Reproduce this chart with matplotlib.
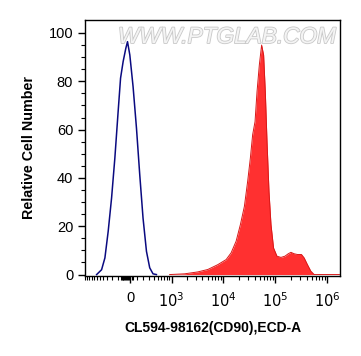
import numpy as np
import matplotlib
matplotlib.use("Agg")
from matplotlib import pyplot as plt
import matplotlib.patheffects as pe

plt.rcParams['font.family'] = ['Liberation Sans', 'DejaVu Sans']

# Control (unstained) histogram - outline only
ctrl_x = [-706, -551, -462, -384, -312, -249, -191, -151, -110, -69, -44,
          -10, 38, 89, 140, 194, 255, 318, 389, 470]
ctrl_y = [0, 2, 6.9, 17.9, 31.7, 48.2, 67.5, 81.3, 88.2, 93.7, 96.4,
          90.9, 77.8, 60.6, 41.3, 23.4, 9.6, 2.8, 0.3, 0]

# CD90 stained histogram - filled
cd90_x = [910, 1803, 3257, 5069, 7878, 11400, 14210, 17710, 21400, 25510,
          29500, 33220, 36780, 40860, 44620, 49420, 54660, 59690, 64330,
          69350, 75720, 82680, 92680, 107700, 128400, 153100, 177000,
          199500, 230600, 266700, 318000, 358100, 414100, 481000, 556100,
          1700000]
cd90_y = [0, 0.3, 1.1, 2.1, 4.1, 6.2, 9, 13.8, 20.7, 28.2,
          38.6, 48.2, 57.9, 63.3, 75.7, 86.8, 95, 90.9, 75.7,
          55.1, 34.4, 20.7, 11, 7.6, 7.1, 7.6, 8.6,
          9.2, 8.6, 8.3, 8.3, 6.9, 4.1, 1.4, 0,
          0]

xtick_vals = [0, 1e3, 1e4, 1e5, 1e6]
xtick_labels = ['0', '$10^3$', '$10^4$', '$10^5$', '$10^6$']
ytick_vals = [0, 20, 40, 60, 80, 100]

# arcsinh display scale (biexponential-like)
C = 333.0
def fwd(x):
    return np.arcsinh(np.asarray(x) / C) / np.log(10)
def inv(y):
    return C * np.sinh(np.asarray(y) * np.log(10))

fig = plt.figure(figsize=(3.61, 3.56), dpi=100)
ax = fig.add_axes([0.2355, 0.2247, 0.7065, 0.7193])
ax.set_xscale('function', functions=(fwd, inv))

ax.fill_between(cd90_x, cd90_y, 0, color='#ff3030', linewidth=0)
ax.plot(cd90_x, cd90_y, color='#d81818', linewidth=0.7)
ax.plot(ctrl_x, ctrl_y, color='#0a0a80', linewidth=1.1)

ax.set_xlim(-1220, 1.75e6)
ax.set_ylim(-0.6, 105.4)

minors = list(range(-1200, -150, 100)) + list(range(-150, 40, 15)) + list(range(100, 1000, 100))
for k in [3, 4, 5]:
    minors += [m * 10 ** k for m in range(2, 10)]
ax.set_xticks(xtick_vals)
ax.set_xticklabels(xtick_labels)
ax.set_xticks(minors, minor=True)
ax.set_yticks(ytick_vals)
ax.set_yticks(np.arange(0, 105, 5), minor=True)

ax.tick_params(axis='both', which='major', direction='out', length=5, width=1,
               labelsize=10.5, colors='black')
ax.tick_params(axis='x', which='major', pad=6)
ax.tick_params(axis='both', which='minor', direction='out', length=3, width=0.8)
for s in ax.spines.values():
    s.set_linewidth(1)

ax.set_xlabel('CL594-98162(CD90),ECD-A', fontsize=10, fontweight='bold', labelpad=8)
ax.set_ylabel('Relative Cell Number', fontsize=10.3, fontweight='bold', labelpad=9)

ax.text(0.557, 0.935, 'WWW.PTGLAB.COM', transform=ax.transAxes, ha='center',
        va='center', fontsize=16.3, color='#f4f4f4', style='italic',
        path_effects=[pe.withStroke(linewidth=1.2, foreground='#c8c8c8')])

plt.savefig('out.png', dpi=100)
